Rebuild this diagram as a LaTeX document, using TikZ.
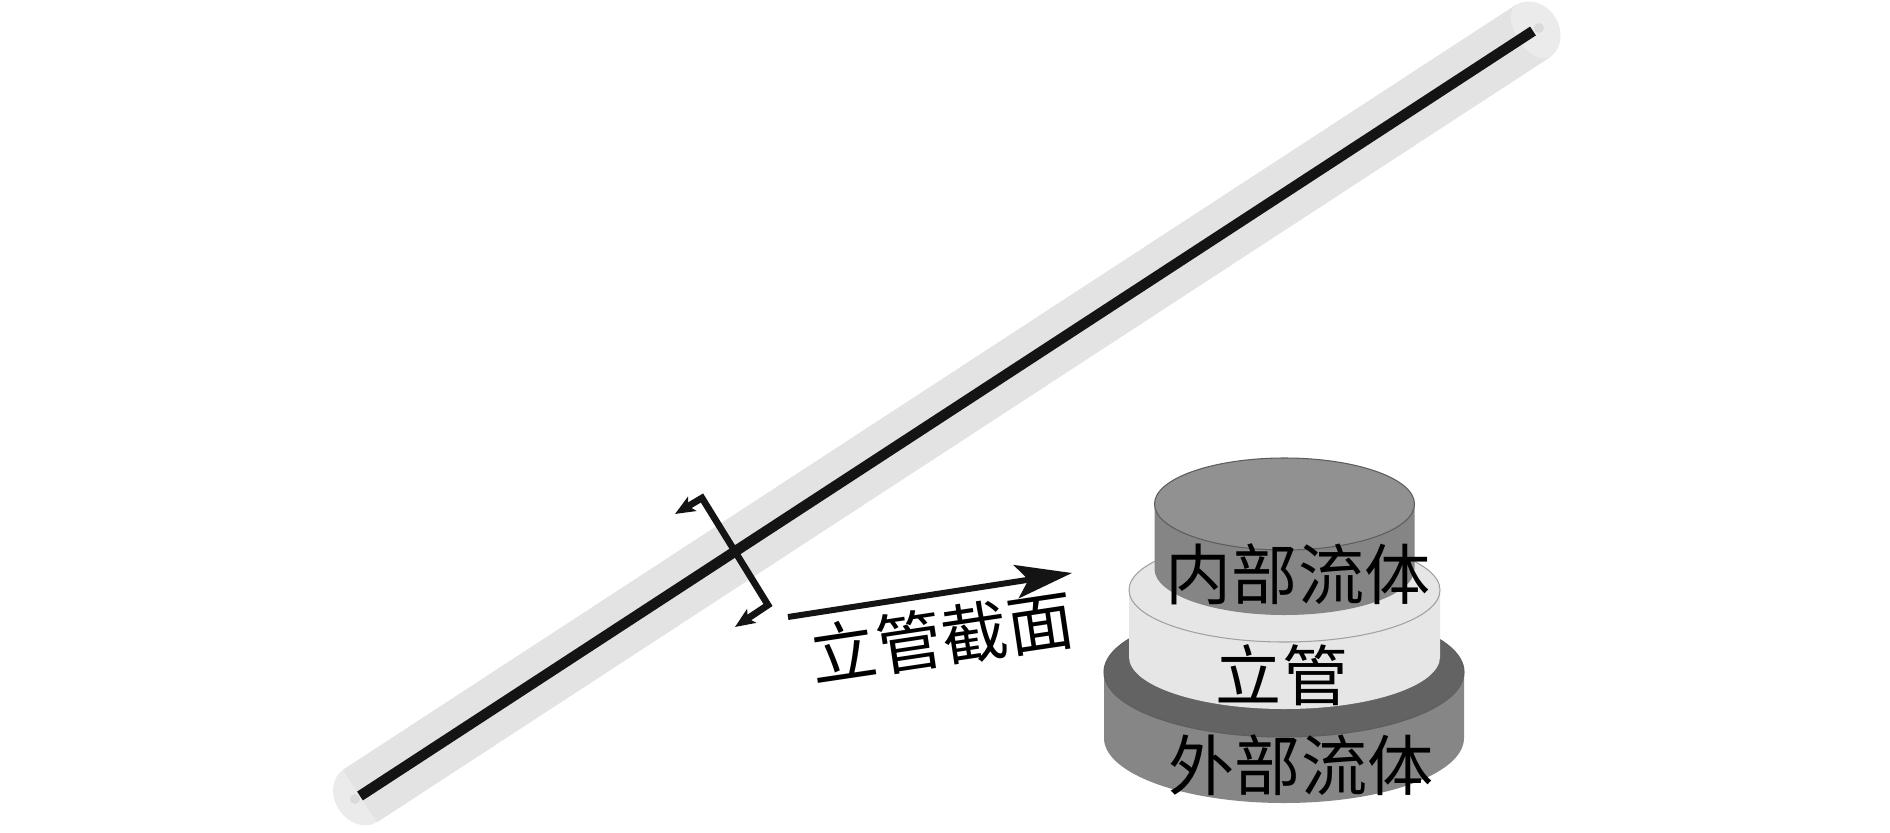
\documentclass[tikz,border=0pt]{standalone}
\usepackage{fontspec}
\usetikzlibrary{arrows.meta}
\newfontfamily\cjk{Noto Sans CJK SC}
\definecolor{tubegray}{HTML}{E3E3E3}
\definecolor{capgray}{HTML}{EBEBEB}
\definecolor{rimgray}{HTML}{DADADA}
\definecolor{innerside}{HTML}{858585}
\definecolor{innertop}{HTML}{919191}
\definecolor{pipegray}{HTML}{E6E6E6}
\definecolor{outerside}{HTML}{868686}
\definecolor{outertop}{HTML}{636363}
\tikzset{
  labeltext/.style={font=\cjk\fontsize{18.8}{20}\selectfont,text=black,inner sep=0pt},
  tubebody/.style={line width=17.8pt,draw=tubegray},
  coreline/.style={line width=3pt,draw=black!92},
  secline/.style={line width=1.9pt,draw=black!92,line join=miter,{Stealth[length=5.6pt,width=4.6pt,inset=1.2pt]}-{Stealth[length=5.6pt,width=4.6pt,inset=1.2pt]}},
  bigarrow/.style={line width=1.7pt,draw=black!92,-{Stealth[length=16pt,width=9.5pt,inset=3.5pt]}}
}
\newcommand{\cylinderdraw}[7]{%
  \fill[#6] (#1-#4,#2) -- (#1-#4,#3) arc[start angle=180,end angle=0,x radius=#4,y radius=#5] -- (#1+#4,#2) -- cycle;
  \filldraw[fill=#7,draw=#6!70!black,line width=0.3pt] (#1,#2) ellipse[x radius=#4,y radius=#5];
}
\begin{document}
\begin{tikzpicture}[x=0.01cm,y=-0.01cm]
\useasboundingbox (0,0) rectangle (1890,833);
\fill[white] (0,0) rectangle (1890,833);
\coordinate (lowend) at (360,796);
\coordinate (highend) at (1533,31);
% tube
\fill[capgray,shift={(lowend)},rotate=33.1] (0,0) ellipse[x radius=25,y radius=31];
\fill[capgray,shift={(highend)},rotate=33.1] (0,0) ellipse[x radius=26,y radius=31];
\draw[tubebody] (lowend) -- (highend);
\fill[capgray,shift={(highend)},rotate=33.1] (0,0) ellipse[x radius=17,y radius=31];
\fill[rimgray] (lowend) ++(-5,3) circle[radius=5];
\fill[rimgray] (highend) ++(6,-3) circle[radius=5];
\draw[coreline] (lowend) -- (highend);
% section mark
\coordinate (tipa) at (675,514);
\coordinate (cornera) at (702,498);
\coordinate (cornerb) at (768,605);
\coordinate (tipb) at (735,627);
\draw[secline] (tipa) -- (cornera) -- (cornerb) -- (tipb);
% arrow and its label
\coordinate (arrowstart) at (788,617);
\coordinate (arrowend) at (1072,573);
\draw[bigarrow] (arrowstart) -- (arrowend);
\node[labeltext,rotate=8.5] (seclabel) at (942,637) {立管截面};
% stacked section
\cylinderdraw{1284}{672}{738}{180}{65}{outerside}{outertop}
\cylinderdraw{1284.5}{590}{657}{155.5}{52}{pipegray}{pipegray}
\cylinderdraw{1284.5}{504}{569}{130}{46}{innerside}{innertop}
\node[labeltext] (innerlabel) at (1298,574) {内部流体};
\node[labeltext] (pipelabel) at (1282,675) {立管};
\node[labeltext] (outerlabel) at (1301,765) {外部流体};
\end{tikzpicture}
\end{document}
